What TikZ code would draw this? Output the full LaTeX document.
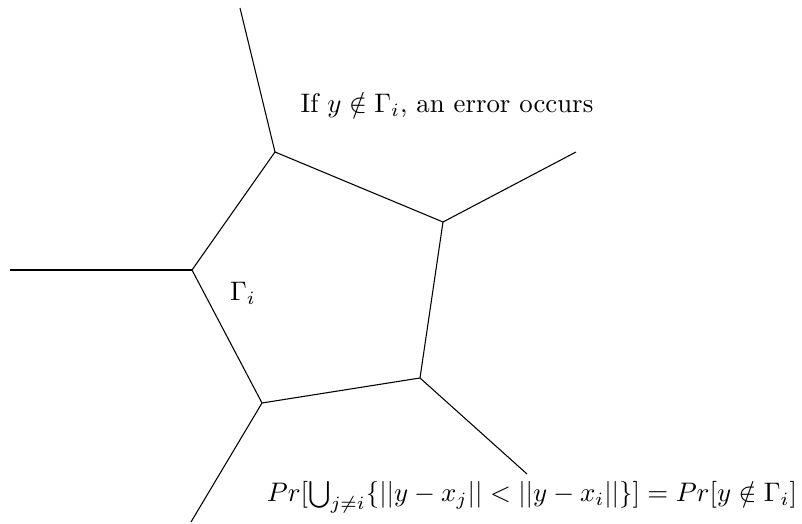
\documentclass[tikz,border=0pt]{standalone}
\usepackage{amsmath,amssymb}
\begin{document}
\begin{tikzpicture}[x=0.373pt,y=-0.373pt,edge/.style={draw=black,line width=0.4pt}]
\useasboundingbox (0,0) rectangle (802,524);
\coordinate (A) at (275,152);
\coordinate (B) at (443,222);
\coordinate (C) at (420,378);
\coordinate (D) at (262,403);
\coordinate (E) at (192,270);
\coordinate (RA) at (240,8);
\coordinate (RB) at (576,152);
\coordinate (RC) at (527,474);
\coordinate (RD) at (191,522);
\coordinate (RE) at (10,270);
\draw[edge] (A) -- (B) -- (C) -- (D) -- (E) -- cycle;
\draw[edge] (A) -- (RA);
\draw[edge] (B) -- (RB);
\draw[edge] (C) -- (RC);
\draw[edge] (D) -- (RD);
\draw[edge] (E) -- (RE);
\node[inner sep=0pt] (err) at (447,105) {If $y \notin \Gamma_i$, an error occurs};
\node[inner sep=0pt] (gam) at (243,293) {$\Gamma_i$};
\node[inner sep=0pt] (pr) at (532,497) {$Pr[\bigcup_{j\neq i}\{||y-x_j||<||y-x_i||\}]=Pr[y\notin\Gamma_i]$};
\end{tikzpicture}
\end{document}
